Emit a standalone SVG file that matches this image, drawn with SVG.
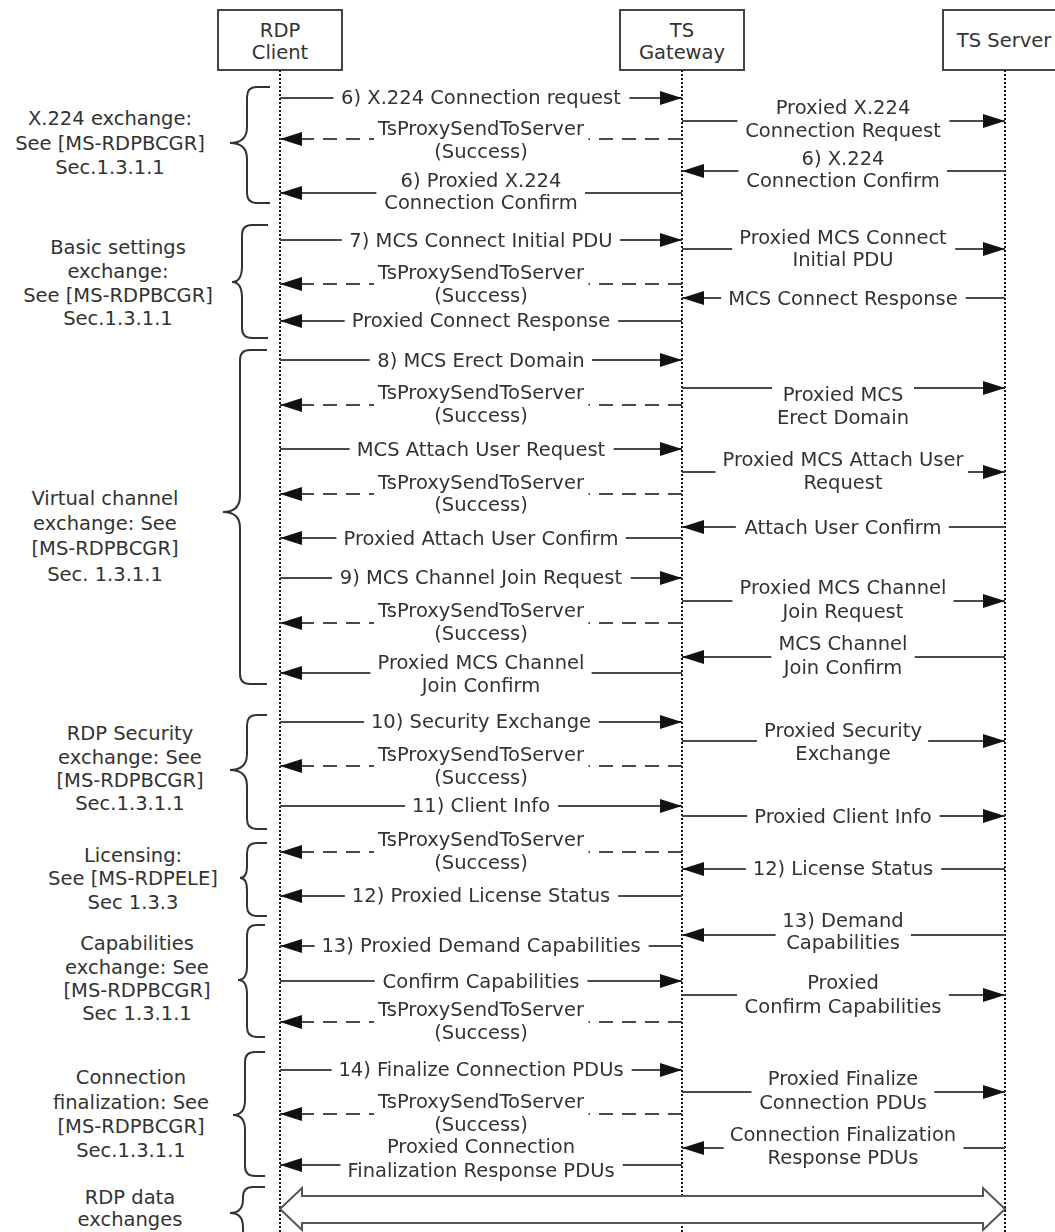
<svg xmlns="http://www.w3.org/2000/svg" width="1055" height="1232" viewBox="0 0 1055 1232">
<defs>
<style>
text{font-family:"DejaVu Sans",Verdana,sans-serif;font-size:19.5px;fill:#333;text-anchor:middle}
.box{fill:#fff;stroke:#444;stroke-width:2}
.life{stroke:#111;stroke-width:2;stroke-dasharray:2 2;fill:none}
.msg{stroke:#4a4a4a;stroke-width:2.2;fill:none;marker-end:url(#ah)}
.seg{stroke:#4a4a4a;stroke-width:2.2;fill:none}
.dash{stroke-dasharray:14 9}
.brace{fill:none;stroke:#333;stroke-width:2}
.big{fill:#fff;stroke:#555;stroke-width:2}
</style>
<marker id="ah" markerUnits="userSpaceOnUse" markerWidth="22" markerHeight="14" refX="22" refY="7" orient="auto"><path d="M0,0 L22,7 L0,14 z" fill="#111"/></marker>
<filter id="halo" filterUnits="userSpaceOnUse" primitiveUnits="userSpaceOnUse" x="0" y="0" width="1055" height="1232" color-interpolation-filters="sRGB">
<feMorphology in="SourceAlpha" operator="dilate" radius="9" result="d"/>
<feFlood flood-color="#fff" result="w"/>
<feComposite in="w" in2="d" operator="in" result="h"/>
<feMerge><feMergeNode in="h"/><feMergeNode in="SourceGraphic"/></feMerge>
</filter>
</defs>
<rect width="1055" height="1232" fill="#fff"/>

<g id="rdp-client"><rect class="box" x="218" y="10" width="124" height="60"/><text x="280" y="37">RDP</text><text x="280" y="59">Client</text><line class="life" x1="280" y1="70" x2="280" y2="1232"/></g>
<g id="ts-gateway"><rect class="box" x="620" y="10" width="124" height="60"/><text x="682" y="37">TS</text><text x="682" y="59">Gateway</text><line class="life" x1="682" y1="70" x2="682" y2="1232"/></g>
<g id="ts-server"><rect class="box" x="943" y="10" width="124" height="60"/><text x="1004" y="47">TS Server</text><line class="life" x1="1005" y1="70" x2="1005" y2="1232"/></g>

<g id="note-x224"><path class="brace" d="M270,87 H257 Q247,87 247,97 V127 Q247,143 230,143 Q247,143 247,159 V193 Q247,203 257,203 H270"/><text x="110" y="125">X.224 exchange:</text><text x="110" y="150">See [MS-RDPBCGR]</text><text x="110" y="174">Sec.1.3.1.1</text></g>
<g id="note-basic"><path class="brace" d="M268,225 H252 Q242,225 242,235 V266 Q242,282 232,282 Q242,282 242,298 V328 Q242,338 252,338 H268"/><text x="118" y="254">Basic settings</text><text x="118" y="278">exchange:</text><text x="118" y="302">See [MS-RDPBCGR]</text><text x="118" y="325">Sec.1.3.1.1</text></g>
<g id="note-virtual"><path class="brace" d="M267,350 H250 Q240,350 240,360 V496 Q240,512 223,512 Q240,512 240,528 V674 Q240,684 250,684 H267"/><text x="105" y="505">Virtual channel</text><text x="105" y="530">exchange: See</text><text x="105" y="555">[MS-RDPBCGR]</text><text x="105" y="581">Sec. 1.3.1.1</text></g>
<g id="note-security"><path class="brace" d="M267,715 H257 Q247,715 247,725 V754 Q247,770 230,770 Q247,770 247,786 V819 Q247,829 257,829 H267"/><text x="130" y="740">RDP Security</text><text x="130" y="764">exchange: See</text><text x="130" y="787">[MS-RDPBCGR]</text><text x="130" y="810">Sec.1.3.1.1</text></g>
<g id="note-licensing"><path class="brace" d="M267,843 H257 Q247,843 247,853 V866 Q247,878 240,878 Q247,878 247,890 V906 Q247,916 257,916 H267"/><text x="133" y="862">Licensing:</text><text x="133" y="885">See [MS-RDPELE]</text><text x="133" y="909">Sec 1.3.3</text></g>
<g id="note-capabilities"><path class="brace" d="M265,925 H257 Q247,925 247,935 V966 Q247,980 238,980 Q247,980 247,994 V1027 Q247,1037 257,1037 H265"/><text x="137" y="950">Capabilities</text><text x="137" y="974">exchange: See</text><text x="137" y="997">[MS-RDPBCGR]</text><text x="137" y="1020">Sec 1.3.1.1</text></g>
<g id="note-finalization"><path class="brace" d="M265,1052 H255 Q245,1052 245,1062 V1100 Q245,1115 233,1115 Q245,1115 245,1130 V1166 Q245,1176 255,1176 H265"/><text x="131" y="1084">Connection</text><text x="131" y="1109">finalization: See</text><text x="131" y="1133">[MS-RDPBCGR]</text><text x="131" y="1157">Sec.1.3.1.1</text></g>
<g id="note-data"><path class="brace" d="M265,1187 H253 Q243,1187 243,1197 V1199 Q243,1213 230,1213 Q243,1213 243,1227 V1240"/><text x="130" y="1204">RDP data</text><text x="130" y="1226">exchanges</text></g>

<g id="connectors">
<path class="msg" d="M280,98H682"/>
<path class="msg" d="M682,121H1005"/>
<path class="msg dash" d="M682,139H280"/>
<path class="msg" d="M1005,171H682"/>
<path class="msg" d="M682,193H280"/>
<path class="msg" d="M280,240H682"/>
<path class="msg" d="M682,249H1005"/>
<path class="msg dash" d="M682,284H280"/>
<path class="msg" d="M1005,298H682"/>
<path class="msg" d="M682,321H280"/>
<path class="msg" d="M280,360H682"/>
<path class="seg" d="M682,388H772"/><path class="msg" d="M914,388H1005"/>
<path class="msg dash" d="M682,405H280"/>
<path class="msg" d="M280,449H682"/>
<path class="msg" d="M682,472H1005"/>
<path class="msg dash" d="M682,494H280"/>
<path class="msg" d="M1005,527H682"/>
<path class="msg" d="M682,538H280"/>
<path class="msg" d="M280,578H682"/>
<path class="msg" d="M682,601H1005"/>
<path class="msg dash" d="M682,623H280"/>
<path class="msg" d="M1005,657H682"/>
<path class="msg" d="M682,673H280"/>
<path class="msg" d="M280,722H682"/>
<path class="msg" d="M682,741H1005"/>
<path class="msg dash" d="M682,766H280"/>
<path class="msg" d="M280,806H682"/>
<path class="msg" d="M682,816H1005"/>
<path class="msg dash" d="M682,852H280"/>
<path class="msg" d="M1005,869H682"/>
<path class="msg" d="M682,896H280"/>
<path class="msg" d="M1005,935H682"/>
<path class="msg" d="M682,946H280"/>
<path class="msg" d="M280,981H682"/>
<path class="msg" d="M682,995H1005"/>
<path class="msg dash" d="M682,1022H280"/>
<path class="msg" d="M280,1070H682"/>
<path class="msg" d="M682,1092H1005"/>
<path class="msg dash" d="M682,1114H280"/>
<path class="msg" d="M1005,1148H682"/>
<path class="msg" d="M682,1165H280"/>
<polygon class="big" points="280,1209 302,1188 302,1196 983,1196 983,1188 1005,1209 983,1230 983,1223 302,1223 302,1230"/>
</g>

<g id="labels" filter="url(#halo)">
<text x="481" y="104">6) X.224 Connection request</text>
<text x="843" y="114">Proxied X.224</text><text x="843" y="137">Connection Request</text>
<text x="481" y="135">TsProxySendToServer</text><text x="481" y="158">(Success)</text>
<text x="843" y="165">6) X.224</text><text x="843" y="187">Connection Confirm</text>
<text x="481" y="187">6) Proxied X.224</text><text x="481" y="209">Connection Confirm</text>

<text x="481" y="247">7) MCS Connect Initial PDU</text>
<text x="843" y="244">Proxied MCS Connect</text><text x="843" y="266">Initial PDU</text>
<text x="481" y="279">TsProxySendToServer</text><text x="481" y="302">(Success)</text>
<text x="843" y="305">MCS Connect Response</text>
<text x="481" y="327">Proxied Connect Response</text>

<text x="481" y="367">8) MCS Erect Domain</text>
<text x="843" y="401">Proxied MCS</text><text x="843" y="424">Erect Domain</text>
<text x="481" y="399">TsProxySendToServer</text><text x="481" y="422">(Success)</text>
<text x="481" y="456">MCS Attach User Request</text>
<text x="843" y="466">Proxied MCS Attach User</text><text x="843" y="489">Request</text>
<text x="481" y="489">TsProxySendToServer</text><text x="481" y="511">(Success)</text>
<text x="843" y="534">Attach User Confirm</text>
<text x="481" y="545">Proxied Attach User Confirm</text>
<text x="481" y="584">9) MCS Channel Join Request</text>
<text x="843" y="594">Proxied MCS Channel</text><text x="843" y="618">Join Request</text>
<text x="481" y="617">TsProxySendToServer</text><text x="481" y="640">(Success)</text>
<text x="843" y="650">MCS Channel</text><text x="843" y="674">Join Confirm</text>
<text x="481" y="669">Proxied MCS Channel</text><text x="481" y="692">Join Confirm</text>

<text x="481" y="728">10) Security Exchange</text>
<text x="843" y="737">Proxied Security</text><text x="843" y="760">Exchange</text>
<text x="481" y="761">TsProxySendToServer</text><text x="481" y="784">(Success)</text>
<text x="481" y="812">11) Client Info</text>
<text x="843" y="823">Proxied Client Info</text>

<text x="481" y="846">TsProxySendToServer</text><text x="481" y="869">(Success)</text>
<text x="843" y="875">12) License Status</text>
<text x="481" y="902">12) Proxied License Status</text>

<text x="843" y="927">13) Demand</text><text x="843" y="949">Capabilities</text>
<text x="481" y="952">13) Proxied Demand Capabilities</text>
<text x="481" y="988">Confirm Capabilities</text>
<text x="843" y="989">Proxied</text><text x="843" y="1013">Confirm Capabilities</text>
<text x="481" y="1016">TsProxySendToServer</text><text x="481" y="1039">(Success)</text>

<text x="481" y="1076">14) Finalize Connection PDUs</text>
<text x="843" y="1085">Proxied Finalize</text><text x="843" y="1109">Connection PDUs</text>
<text x="481" y="1108">TsProxySendToServer</text><text x="481" y="1131">(Success)</text>
<text x="843" y="1141">Connection Finalization</text><text x="843" y="1164">Response PDUs</text>
<text x="481" y="1153">Proxied Connection</text><text x="481" y="1177">Finalization Response PDUs</text>
</g>
</svg>
